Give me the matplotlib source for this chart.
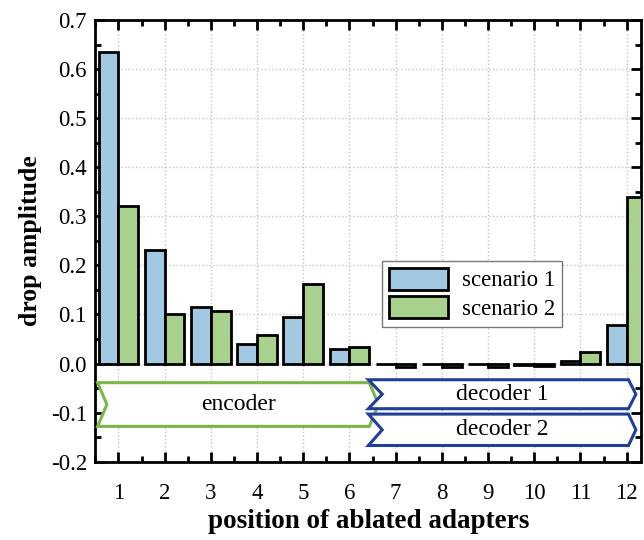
import matplotlib.pyplot as plt
from matplotlib.patches import Polygon
from matplotlib.ticker import MultipleLocator
import numpy as np

plt.rcParams['font.family'] = ['Liberation Serif', 'DejaVu Serif']
plt.rcParams['axes.unicode_minus'] = False

positions = [1, 2, 3, 4, 5, 6, 7, 8, 9, 10, 11, 12]
scenario_1 = [0.635, 0.232, 0.115, 0.040, 0.095, 0.030, -0.001, -0.001, -0.001, -0.002, 0.005, 0.078]
scenario_2 = [0.320, 0.100, 0.108, 0.058, 0.163, 0.033, -0.008, -0.008, -0.008, -0.005, 0.024, 0.340]

fig = plt.figure(figsize=(6.44, 5.4), dpi=100)
ax = fig.add_axes([0.148, 0.145, 0.848, 0.818])

x = np.array(positions)
w = 0.43
ax.bar(x - w / 2, scenario_1, w, color='#a2c8e2', edgecolor='black', linewidth=2, label='scenario 1', zorder=3)
ax.bar(x + w / 2, scenario_2, w, color='#a9d18e', edgecolor='black', linewidth=2, label='scenario 2', zorder=3)

ax.set_xlim(0.5, 12.32)
ax.set_ylim(-0.2, 0.7)
ax.set_xticks(positions)
ax.xaxis.set_minor_locator(MultipleLocator(0.5))
ax.yaxis.set_major_locator(MultipleLocator(0.1))
ax.yaxis.set_minor_locator(MultipleLocator(0.05))
ax.tick_params(which='both', direction='in', top=True, right=True, width=2, labelsize=16.5)
ax.tick_params(which='major', length=7)
ax.tick_params(which='minor', length=4)
ax.tick_params(axis='x', pad=15)
ax.tick_params(axis='y', pad=6)
ax.grid(True, linestyle=':', color='#c4c4c4', linewidth=1, zorder=0)
for s in ax.spines.values():
    s.set_linewidth(2)

ax.set_xlabel('position of ablated adapters', fontsize=19.5, fontweight='bold', labelpad=4)
ax.set_ylabel('drop amplitude', fontsize=18.5, fontweight='bold', labelpad=6)

def chevron(x0, x1, y0, y1, notch, tip, color, text):
    ym = (y0 + y1) / 2
    pts = [(x0, y1), (x1 - tip, y1), (x1, ym), (x1 - tip, y0), (x0, y0), (x0 + notch, ym)]
    ax.add_patch(Polygon(pts, closed=True, facecolor='white', edgecolor=color, linewidth=2.2, zorder=4))
    ax.text((x0 + x1) / 2, ym, text, ha='center', va='center', fontsize=17, zorder=5)

chevron(0.55, 6.63, -0.128, -0.039, 0.2, 0.2, '#7ab648', 'encoder')
chevron(6.41, 12.2, -0.092, -0.033, 0.3, 0.16, '#1f3f9a', 'decoder 1')
chevron(6.41, 12.2, -0.167, -0.103, 0.3, 0.16, '#1f3f9a', 'decoder 2')

ax.legend(loc='upper left', bbox_to_anchor=(0.525, 0.455), fontsize=16.5, fancybox=False,
          edgecolor='#777777', framealpha=1, borderpad=0.3, handlelength=2.6, handleheight=1.1,
          handletextpad=0.6, labelspacing=0.2, borderaxespad=0)

fig.savefig('out.png', dpi=100)
